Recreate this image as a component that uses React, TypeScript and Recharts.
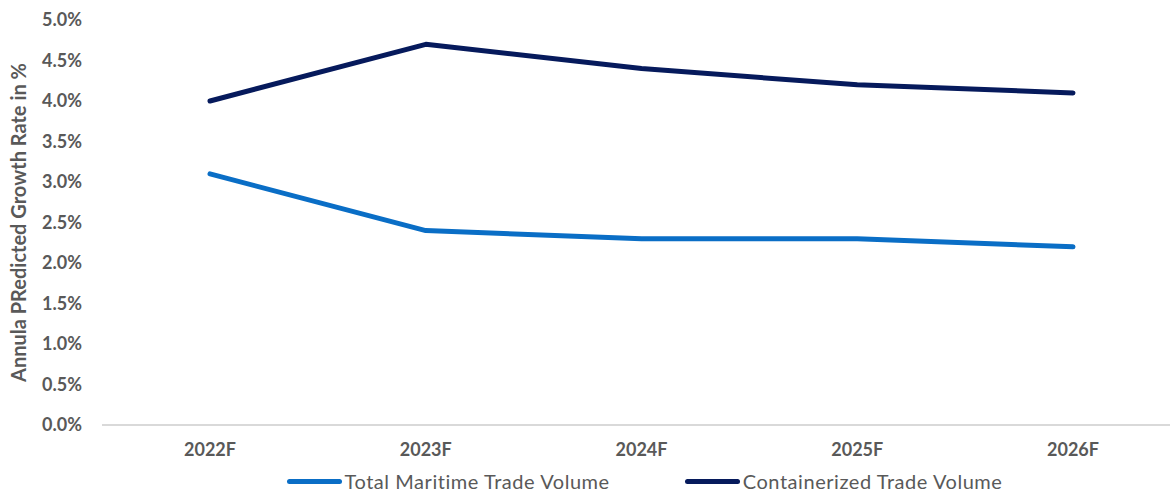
import React from "react";
import { LineChart, Line, XAxis, YAxis, Legend } from "recharts";

const years = ["2022F", "2023F", "2024F", "2025F", "2026F"];
const totalMaritime = [3.1, 2.4, 2.3, 2.3, 2.2];
const containerized = [4.0, 4.7, 4.4, 4.2, 4.1];
const yTicks = [0, 0.5, 1, 1.5, 2, 2.5, 3, 3.5, 4, 4.5, 5];

const seriesInfo = [
  { key: "total", name: "Total Maritime Trade Volume", color: "#0A6EC6" },
  { key: "container", name: "Containerized Trade Volume", color: "#061A5C" },
];

const rows = years.map((year, i) => ({
  year,
  total: totalMaritime[i],
  container: containerized[i],
}));

const FONT = "Lato, 'Open Sans', sans-serif";
const GREY = "#595959";

const YLabel = (props: any) => {
  const vb = props.viewBox;
  const cy = vb.y + vb.height / 2;
  return (
    <text
      x={18}
      y={cy}
      transform={`rotate(-90, 18, ${cy})`}
      textAnchor="middle"
      dominantBaseline="central"
      fill={GREY}
      fontSize={20}
      fontWeight={700}
      fontFamily={FONT}
    >
      Annula PRedicted Growth Rate in %
    </text>
  );
};

const LegendBox = () => (
  <div
    style={{
      height: 30,
      display: "flex",
      justifyContent: "center",
      alignItems: "flex-start",
      paddingLeft: 108,
      paddingTop: 9,
      boxSizing: "border-box",
      fontFamily: FONT,
      fontSize: 20,
      letterSpacing: 0.55,
      color: GREY,
    }}
  >
    {seriesInfo.map((s, i) => (
      <div
        key={s.key}
        style={{
          display: "flex",
          alignItems: "center",
          height: 20,
          marginLeft: i === 0 ? 0 : 75,
        }}
      >
        <div
          style={{
            width: 55,
            height: 5,
            borderRadius: 3,
            background: s.color,
            marginRight: 3,
          }}
        />
        <span style={{ lineHeight: "20px", whiteSpace: "nowrap" }}>{s.name}</span>
      </div>
    ))}
  </div>
);

export default function App() {
  return (
    <div
      style={{
        position: "absolute",
        left: 0,
        top: 0,
        width: 1170,
        height: 492,
        overflow: "hidden",
        background: "#fff",
      }}
    >
      <LineChart
        width={1181}
        height={492}
        data={rows}
        margin={{ top: 20, right: 0, bottom: 0, left: 0 }}
      >
        <XAxis
          dataKey="year"
          padding={{ left: 108, right: 108 }}
          height={37}
          axisLine={{ stroke: "#D9D9D9", strokeWidth: 2 }}
          tickLine={false}
          tickSize={0}
          tickMargin={18}
          tick={{
            fill: GREY,
            fontSize: 18,
            fontWeight: 700,
            fontFamily: FONT,
          }}
        />
        <YAxis
          width={102}
          domain={[0, 5]}
          ticks={yTicks}
          interval={0}
          axisLine={false}
          tickLine={false}
          tickSize={0}
          tickMargin={20}
          tickFormatter={(v: number) => `${v.toFixed(1)}%`}
          tick={{
            fill: GREY,
            fontSize: 18,
            fontWeight: 700,
            fontFamily: FONT,
          }}
          label={<YLabel />}
        />
        <Legend verticalAlign="bottom" content={<LegendBox />} />
        {seriesInfo.map((s) => (
          <Line
            key={s.key}
            dataKey={s.key}
            name={s.name}
            stroke={s.color}
            strokeWidth={5}
            strokeLinecap="round"
            strokeLinejoin="round"
            dot={false}
            activeDot={false}
            isAnimationActive={false}
          />
        ))}
      </LineChart>
    </div>
  );
}
